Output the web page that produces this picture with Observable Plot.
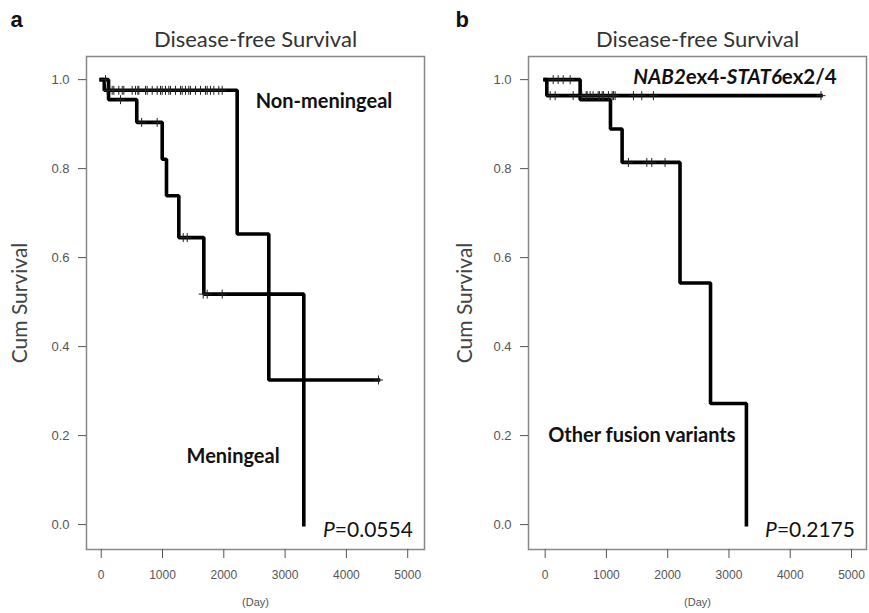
<!DOCTYPE html>
<html>
<head>
<meta charset="utf-8">
<script src="https://cdn.jsdelivr.net/npm/d3@7"></script>
<script src="https://cdn.jsdelivr.net/npm/@observablehq/plot@0.6"></script>
<style>
  html, body { margin: 0; padding: 0; background: #fff; }
  #wrap { position: relative; width: 869px; height: 613px; overflow: hidden; }
  #wrap svg { position: absolute; top: 0; }
</style>
</head>
<body>
<div id="wrap"></div>
<script>
// ---------- Panel a: Meningeal vs Non-meningeal ----------
const nonMenDays = [0, 50, 2218, 2734, 4524];
const nonMenSurv = [1, 0.976, 0.653, 0.325, 0.325];
const nonMenCensorDays = [98, 179, 206, 287, 343, 369, 505, 560, 597, 614, 723, 750, 832, 913, 967, 995, 1049, 1103, 1130, 1212, 1294, 1321, 1375, 1429, 1457, 1538, 1620, 1701, 1729, 1783, 1837, 1918, 1974, 4524];
const nonMenCensorSurv = [0.976, 0.976, 0.976, 0.976, 0.976, 0.976, 0.976, 0.976, 0.976, 0.976, 0.976, 0.976, 0.976, 0.976, 0.976, 0.976, 0.976, 0.976, 0.976, 0.976, 0.976, 0.976, 0.976, 0.976, 0.976, 0.976, 0.976, 0.976, 0.976, 0.976, 0.976, 0.976, 0.976, 0.325];

const menDays = [0, 120, 580, 995, 1065, 1266, 1674, 3305];
const menSurv = [1, 0.955, 0.904, 0.821, 0.739, 0.645, 0.518, 0];
const menCensorDays = [70, 315, 660, 913, 1338, 1403, 1664, 1729, 1974];
const menCensorSurv = [1, 0.955, 0.904, 0.904, 0.645, 0.645, 0.518, 0.518, 0.518];

// ---------- Panel b: NAB2ex4-STAT6ex2/4 vs other ----------
const nabDays = [0, 27, 4502];
const nabSurv = [1, 0.964, 0.964];
const nabCensorDays = [82, 163, 457, 598, 669, 685, 734, 783, 865, 886, 930, 951, 1033, 1093, 1115, 1142, 1441, 1577, 1767, 4502];
const nabCensorSurv = [0.964, 0.964, 0.964, 0.964, 0.964, 0.964, 0.964, 0.964, 0.964, 0.964, 0.964, 0.964, 0.964, 0.964, 0.964, 0.964, 0.964, 0.964, 0.964, 0.964];

const otherDays = [0, 571, 1066, 1256, 2201, 2699, 3285];
const otherSurv = [1, 0.955, 0.889, 0.814, 0.543, 0.272, 0];
const otherCensorDays = [131, 212, 294, 408, 1359, 1659, 1740, 1957];
const otherCensorSurv = [1, 1, 1, 1, 0.814, 0.814, 0.814, 0.814];

const xTicks = [0, 1000, 2000, 3000, 4000, 5000];
const yTicks = [0, 0.2, 0.4, 0.6, 0.8, 1.0];
const titleText = "Disease-free Survival";
const yLabelText = "Cum Survival";
const xLabelText = "(Day)";

function pts(days, surv) { return days.map((d, i) => ({day: d, surv: surv[i]})); }

const sans = "Lato, 'Open Sans', sans-serif";
const arial = "'Liberation Sans', Arial, sans-serif";

function panel({left, width, marginLeft, marginRight, xDomain, curves, censors, labels, letter, letterDx, yLabelDx, pText, pDay}) {
  const marks = [
    Plot.frame({stroke: "#888", strokeWidth: 1.5}),
    Plot.axisY({ticks: yTicks, tickFormat: d3.format(".1f"), tickSize: 8, tickPadding: 9, fontSize: 13, color: "#555", label: null, fontFamily: arial}),
    Plot.axisX({ticks: xTicks, tickFormat: d => String(d), tickSize: 9, tickPadding: 12, fontSize: 12, color: "#555", label: null, fontFamily: arial}),
    ...curves.map(c => Plot.line(c, {x: "day", y: "surv", curve: "step-after", stroke: "#000", strokeWidth: 3.6, strokeLinejoin: "miter", strokeLinecap: "square"})),
    ...censors.map(c => Plot.dot(c, {x: "day", y: "surv", symbol: "plus", r: 3, stroke: "#222", strokeWidth: 1})),
    ...labels.map(l => Plot.text([l.text], {x: () => l.day, y: () => l.surv, textAnchor: l.anchor, fontSize: l.size, fontWeight: "bold", fill: "#111", fontFamily: sans})),
    Plot.text([pText], {x: () => pDay, y: () => -0.012, textAnchor: "end", fontSize: 21, fill: "#111", fontFamily: sans}),
    Plot.text([titleText], {frameAnchor: "top", dy: -25, fontSize: 22, fill: "#333", fontFamily: sans}),
    Plot.text([yLabelText], {frameAnchor: "left", dx: yLabelDx, rotate: -90, textAnchor: "middle", fontSize: 21, fill: "#444", fontFamily: sans}),
    Plot.text([xLabelText], {frameAnchor: "bottom", dy: 56, fontSize: 11, fill: "#555", fontFamily: arial}),
    Plot.text([letter], {frameAnchor: "top-left", dx: letterDx, dy: -45, fontSize: 22, fontWeight: "bold", fill: "#111", fontFamily: arial})
  ];
  const svg = Plot.plot({
    width, height: 613,
    marginLeft, marginRight, marginTop: 56, marginBottom: 64,
    x: {domain: xDomain},
    y: {domain: [-0.056, 1.052]},
    style: {background: "transparent", overflow: "visible"},
    marks
  });
  svg.style.left = left + "px";
  return svg;
}

const wrap = document.getElementById("wrap");

const svgA = panel({
  left: 0, width: 434, marginLeft: 86, marginRight: 10,
  xDomain: [-240, 5274],
  curves: [pts(nonMenDays, nonMenSurv), pts(menDays, menSurv)],
  censors: [pts(nonMenCensorDays, nonMenCensorSurv), pts(menCensorDays, menCensorSurv)],
  labels: [
    {text: "Non-meningeal", day: 2520, surv: 0.95, anchor: "start", size: 20},
    {text: "Meningeal", day: 1392, surv: 0.152, anchor: "start", size: 20}
  ],
  letter: "a", letterDx: -76, yLabelDx: -66,
  pText: "P=0.0554", pDay: 5085
});
const svgB = panel({
  left: 434, width: 435, marginLeft: 94, marginRight: 3,
  xDomain: [-272, 5245],
  curves: [pts(nabDays, nabSurv), pts(otherDays, otherSurv)],
  censors: [pts(nabCensorDays, nabCensorSurv), pts(otherCensorDays, otherCensorSurv)],
  labels: [
    {text: "NAB2ex4-STAT6ex2/4", day: 4758, surv: 1.004, anchor: "end", size: 20.5},
    {text: "Other fusion variants", day: 49, surv: 0.2, anchor: "start", size: 20}
  ],
  letter: "b", letterDx: -73, yLabelDx: -63,
  pText: "P=0.2175", pDay: 5057
});
wrap.appendChild(svgA);
wrap.appendChild(svgB);

// Italic parts of texts
function styleParts(svg, full, parts) {
  d3.select(svg).selectAll("text").filter(function() { return this.textContent === full; }).each(function() {
    const t = d3.select(this);
    t.text(null);
    parts.forEach(([s, it]) => t.append("tspan").attr("font-style", it ? "italic" : null).text(s));
  });
}
styleParts(svgA, "P=0.0554", [["P", true], ["=0.0554", false]]);
styleParts(svgB, "P=0.2175", [["P", true], ["=0.2175", false]]);
styleParts(svgB, "NAB2ex4-STAT6ex2/4", [["NAB2", true], ["ex4-", false], ["STAT6", true], ["ex2/4", false]]);
</script>
</body>
</html>
